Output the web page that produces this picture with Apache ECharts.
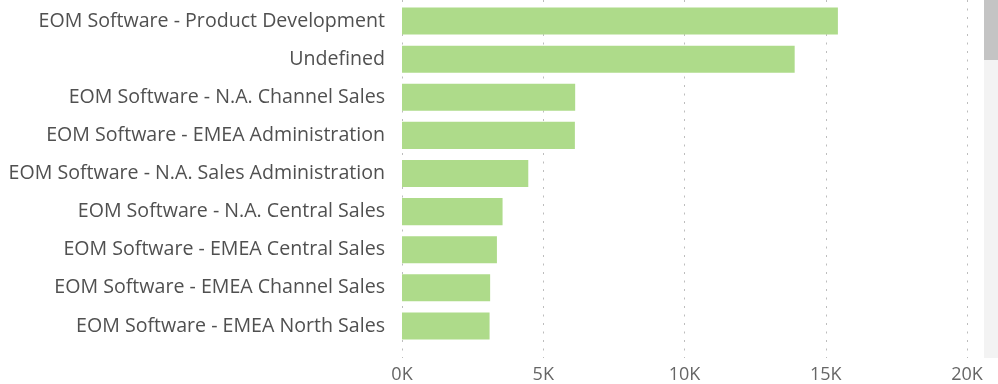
<!DOCTYPE html>
<html>
<head>
<meta charset="utf-8">
<script src="https://cdn.jsdelivr.net/npm/echarts@6/dist/echarts.min.js"></script>
<style>
  html, body { margin: 0; padding: 0; background: #ffffff; }
  #chart { width: 998px; height: 384px; position: relative; }
  .track { position: absolute; left: 984px; top: 0; width: 14px; height: 358px; background: #f3f3f3; }
  .thumb { position: absolute; left: 984px; top: 0; width: 14px; height: 60px; background: #c4c4c4; }
</style>
</head>
<body>
<div id="chart"></div>
<div class="track"></div>
<div class="thumb"></div>
<script>
// Cost centres ordered by amount (descending)
const categories = [
  'EOM Software - Product Development',
  'Undefined',
  'EOM Software - N.A. Channel Sales',
  'EOM Software - EMEA Administration',
  'EOM Software - N.A. Sales Administration',
  'EOM Software - N.A. Central Sales',
  'EOM Software - EMEA Central Sales',
  'EOM Software - EMEA Channel Sales',
  'EOM Software - EMEA North Sales'
];
const amounts = [15430, 13900, 6130, 6120, 4470, 3560, 3360, 3120, 3100];
const xTicks = [0, 5000, 10000, 15000, 20000];

const font = '"Open Sans", "Noto Sans", sans-serif';
const chart = echarts.init(document.getElementById('chart'), null, { renderer: 'canvas' });

chart.setOption({
  animation: false,
  grid: [
    // value axis with dotted gridlines and tick labels
    { left: 402, right: 31, top: 0, bottom: 26 },
    // bars and category labels
    { left: 402, right: 31, top: 2, bottom: 39 }
  ],
  xAxis: [
    {
      gridIndex: 0, type: 'value',
      min: xTicks[0], max: xTicks[xTicks.length - 1], interval: xTicks[1] - xTicks[0],
      axisLine: { show: false }, axisTick: { show: false },
      splitLine: { show: true, lineStyle: { color: '#bdbdbd', type: [2, 6.5], width: 1 } },
      axisLabel: {
        margin: 8, color: '#666666', fontSize: 18, fontFamily: font,
        formatter: v => (v / 1000) + 'K'
      }
    },
    {
      gridIndex: 1, type: 'value',
      min: xTicks[0], max: xTicks[xTicks.length - 1],
      show: false
    }
  ],
  yAxis: [
    { gridIndex: 0, type: 'value', show: false },
    {
      gridIndex: 1, type: 'category', data: categories, inverse: true,
      axisLine: { show: false }, axisTick: { show: false },
      axisLabel: { margin: 17, color: '#505050', fontSize: 19.6, fontFamily: font, padding: [3, 0, 0, 0] }
    }
  ],
  series: [{
    type: 'bar',
    xAxisIndex: 1, yAxisIndex: 1,
    data: amounts,
    barCategoryGap: '29%',
    itemStyle: { color: '#aedb8a' }
  }]
});
</script>
</body>
</html>
